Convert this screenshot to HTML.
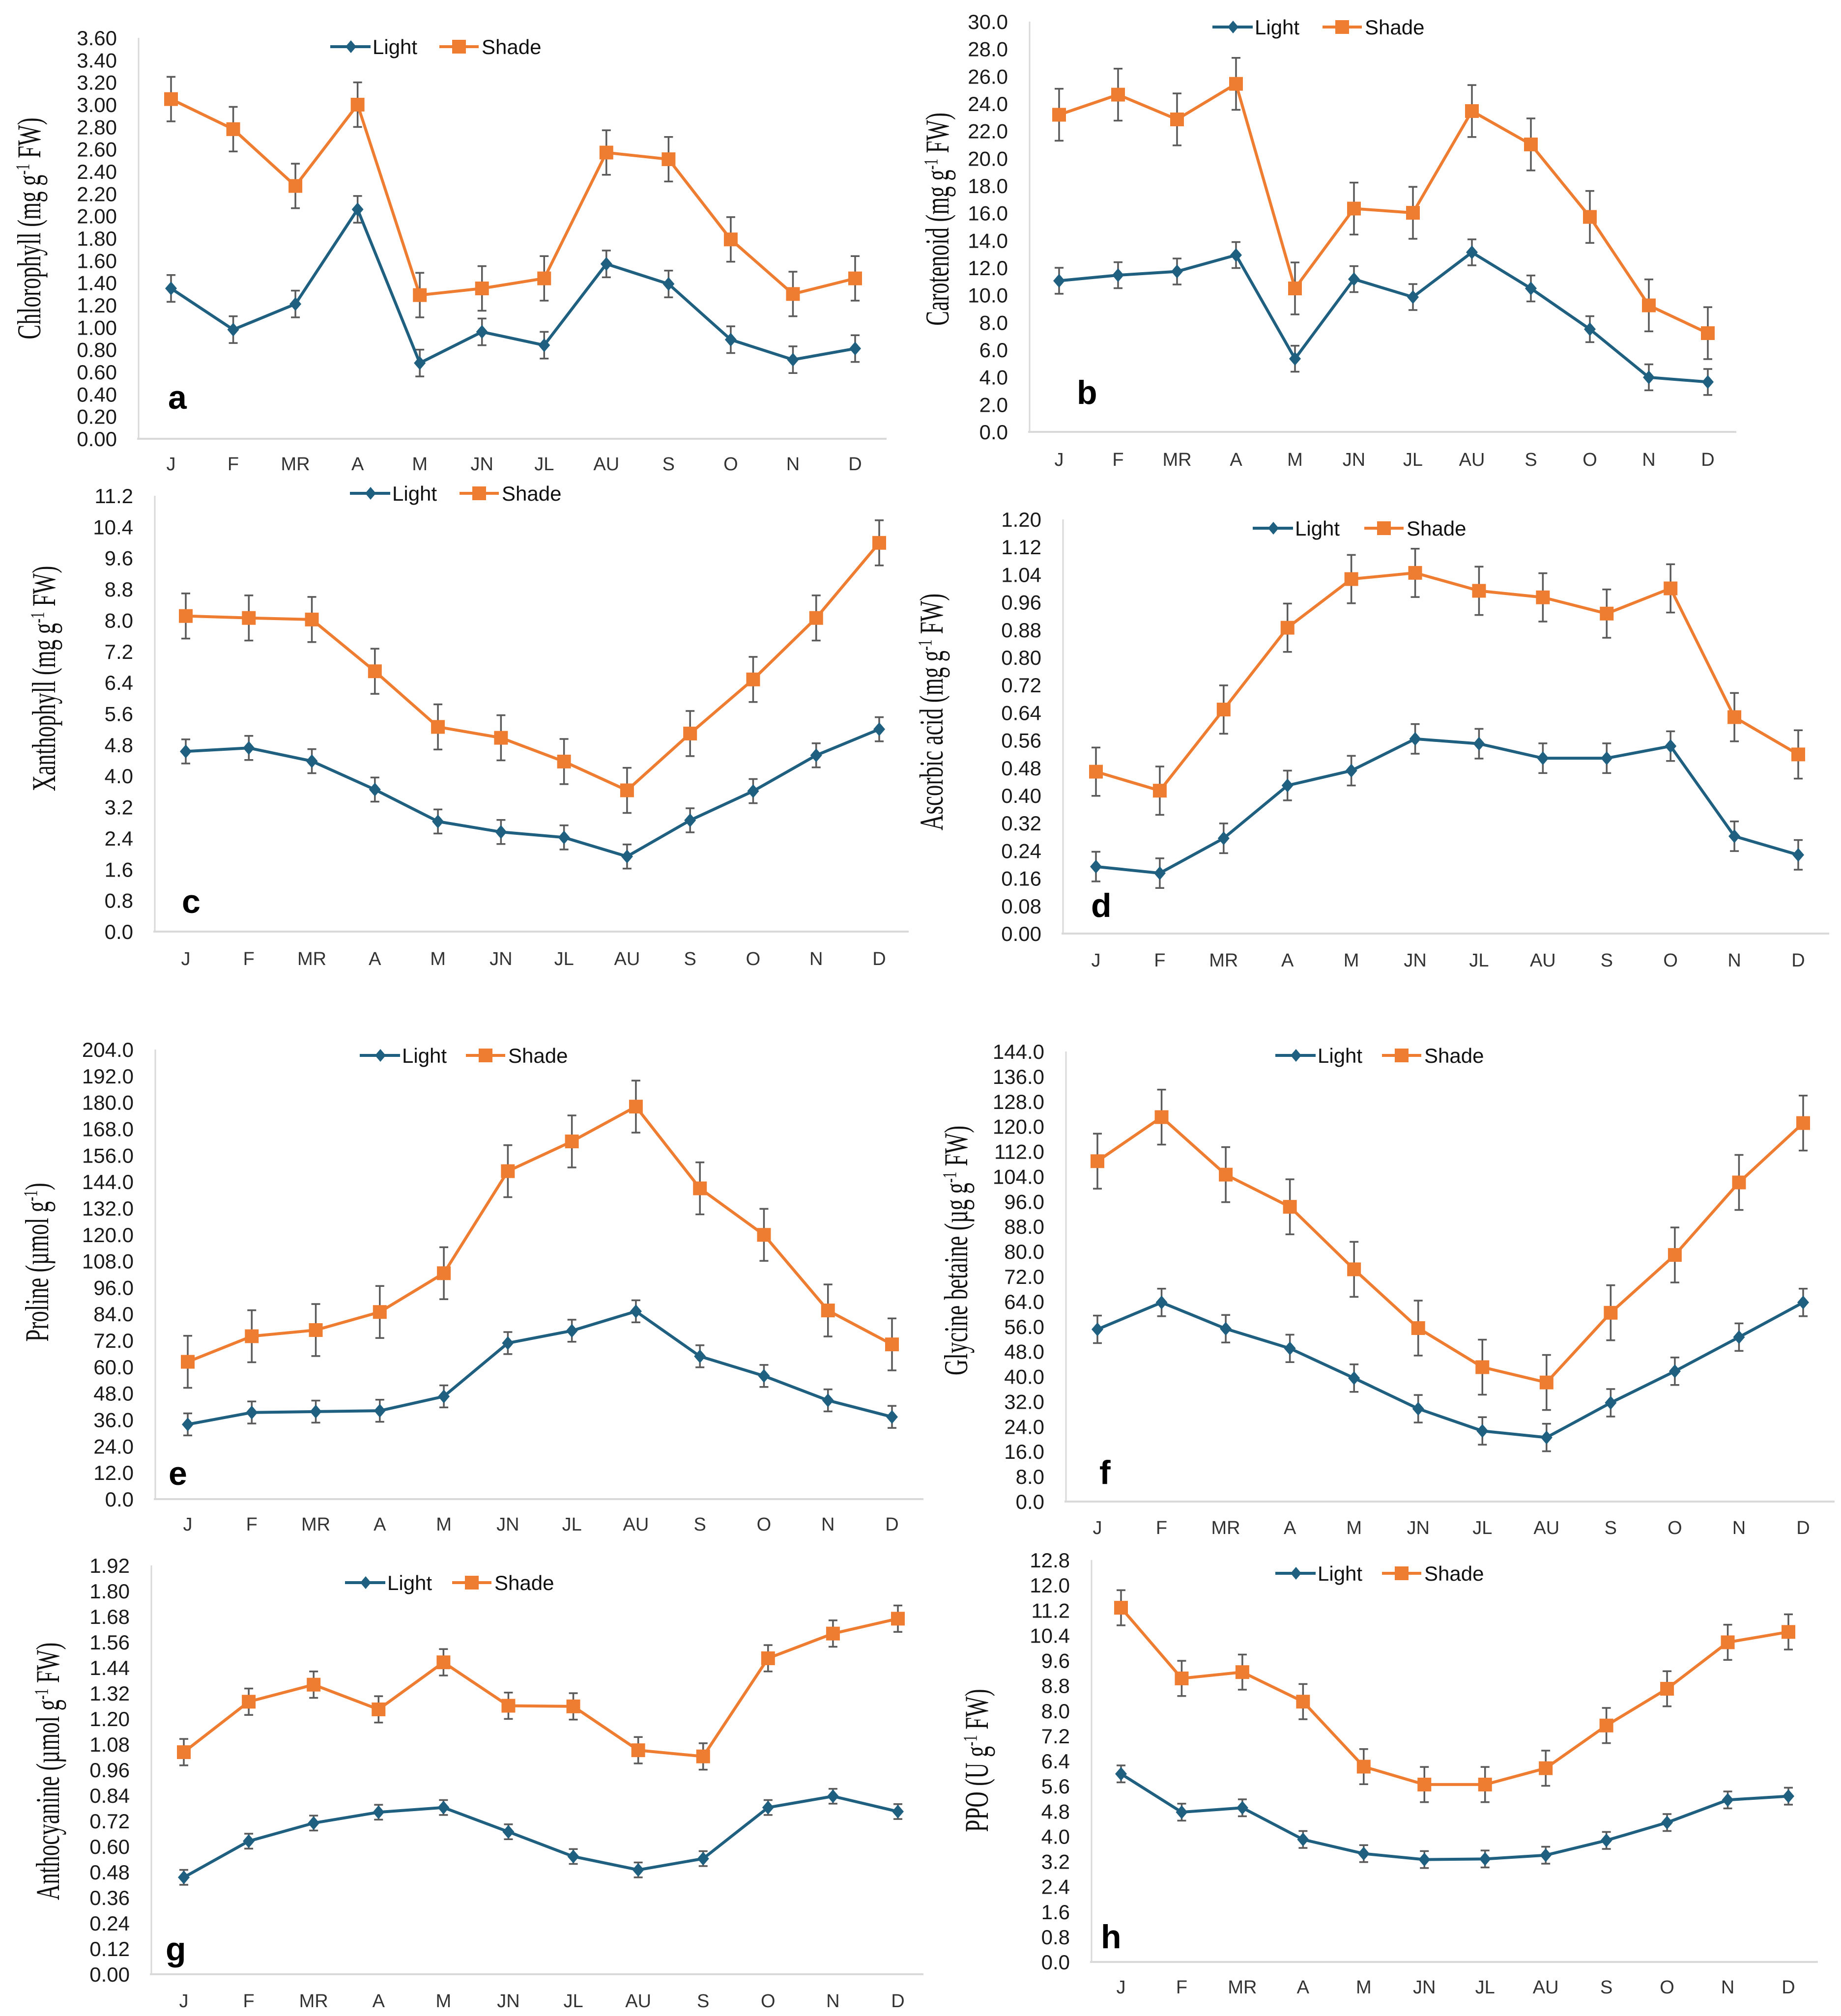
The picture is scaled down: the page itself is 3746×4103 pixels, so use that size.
<!DOCTYPE html>
<html><head><meta charset="utf-8">
<style>
html,body{margin:0;padding:0;background:#fff;}
svg{display:block;}
.tick{font-family:"Liberation Sans",sans-serif;font-size:42px;fill:#1a1a1a;}
.xl{font-family:"Liberation Sans",sans-serif;font-size:38px;fill:#333;}
.leg{font-family:"Liberation Sans",sans-serif;font-size:42px;fill:#111;}
.ttl{font-family:"Liberation Serif",serif;font-size:45px;fill:#111;}
.let{font-family:"Liberation Sans",sans-serif;font-size:68px;font-weight:bold;fill:#000;}
</style></head>
<body>
<svg id="fig" xmlns="http://www.w3.org/2000/svg" width="3746" height="4103" viewBox="0 0 3746 4103"></svg>
<script>
const months = ["J","F","MR","A","M","JN","JL","AU","S","O","N","D"];
// a: Chlorophyll
const chlLight = [1.35,0.98,1.21,2.06,0.68,0.96,0.84,1.57,1.39,0.89,0.71,0.81];
const chlShade = [3.05,2.78,2.27,3.00,1.29,1.35,1.44,2.57,2.51,1.79,1.30,1.44];
const chlErr = [0.12,0.20];
// b: Carotenoid
const carLight = [11.05,11.46,11.73,12.93,5.35,11.17,9.86,13.13,10.49,7.51,3.99,3.65];
const carShade = [23.19,24.66,22.85,25.45,10.49,16.33,16.02,23.46,21.02,15.72,9.25,7.22];
const carErr = [0.95,1.9];
// c: Xanthophyll
const xanLight = [4.63,4.72,4.38,3.65,2.83,2.56,2.42,1.93,2.86,3.61,4.53,5.20];
const xanShade = [8.11,8.06,8.02,6.69,5.26,4.98,4.37,3.63,5.09,6.48,8.06,9.99];
const xanErr = [0.31,0.58];
// d: Ascorbic acid
const ascLight = [0.194,0.175,0.276,0.429,0.472,0.564,0.550,0.508,0.508,0.543,0.282,0.228];
const ascShade = [0.469,0.414,0.649,0.886,1.027,1.045,0.993,0.974,0.927,1.000,0.627,0.519];
const ascErr = [0.043,0.07];
// e: Proline
const proLight = [33.9,39.3,39.7,40.1,46.6,70.8,76.4,85.2,64.8,55.9,44.8,37.3];
const proShade = [62.3,73.9,76.7,84.9,102.5,148.8,162.3,178.1,141.0,119.9,85.6,70.2];
const proErr = [5,11.8];
// f: Glycine betaine
const glyLight = [55.1,63.7,55.3,49.0,39.5,29.7,22.6,20.5,31.6,41.7,52.6,63.7];
const glyShade = [108.9,123.0,104.6,94.3,74.3,55.5,43.0,38.1,60.4,78.9,102.1,121.1];
const glyErr = [4.4,8.8];
// g: Anthocyanine
const antLight = [0.455,0.625,0.710,0.761,0.783,0.669,0.553,0.490,0.543,0.783,0.836,0.764];
const antShade = [1.043,1.280,1.360,1.244,1.465,1.261,1.258,1.052,1.023,1.484,1.600,1.670];
const antErr = [0.035,0.062];
// h: PPO
const ppoLight = [5.99,4.77,4.91,3.90,3.45,3.26,3.28,3.40,3.87,4.44,5.16,5.28];
const ppoShade = [11.28,9.03,9.23,8.29,6.22,5.65,5.65,6.17,7.53,8.70,10.18,10.51];
const ppoErr = [0.27,0.56];
// axis maxima / steps
const axisMax = [3.6,30,11.2,1.2,204,144,1.92,12.8];
const axisStep = [0.2,2,0.8,0.08,12,8,0.12,0.8];
const axisDec = [2,1,1,2,1,1,2,1];

const NS="http://www.w3.org/2000/svg";
const svg=document.getElementById('fig');
function el(tag,attrs,parent,txt){const e=document.createElementNS(NS,tag);for(const k in attrs)e.setAttribute(k,attrs[k]);if(txt!==undefined)e.textContent=txt;(parent||svg).appendChild(e);return e;}

const panels=[
 {key:"a",light:chlLight,shade:chlShade,err:chlErr,ax:282,right:1804,y0:893,yT:77,j:348,d:1740,xlY:957,legY:95,lm:714,sm:934,lx:342,ly:832,tx:82,ty:465,t1:"Chlorophyll  (mg g",t2:" FW)"},
 {key:"b",light:carLight,shade:carShade,err:carErr,ax:2095,right:3533,y0:879,yT:44,j:2155,d:3475,xlY:948,legY:55,lm:2509,sm:2731,lx:2191,ly:822,tx:1930,ty:446,t1:"Carotenoid  (mg g",t2:" FW)"},
 {key:"c",light:xanLight,shade:xanShade,err:xanErr,ax:315,right:1849,y0:1896,yT:1009,j:378,d:1789,xlY:1964,legY:1004,lm:754,sm:975,lx:370,ly:1858,tx:112,ty:1381,t1:"Xanthophyll   (mg g",t2:" FW)"},
 {key:"d",light:ascLight,shade:ascShade,err:ascErr,ax:2163,right:3722,y0:1900,yT:1057,j:2230,d:3659,xlY:1967,legY:1075,lm:2591,sm:2816,lx:2220,ly:1866,tx:1918,ty:1449,t1:"Ascorbic  acid (mg g",t2:" FW)"},
 {key:"e",light:proLight,shade:proShade,err:proErr,ax:316,right:1879,y0:3051,yT:2136,j:382,d:1815,xlY:3115,legY:2148,lm:774,sm:988,lx:343,ly:3022,tx:98,ty:2569,t1:"Proline (µmol g",t2:")"},
 {key:"f",light:glyLight,shade:glyShade,err:glyErr,ax:2169,right:3733,y0:3056,yT:2140,j:2233,d:3669,xlY:3122,legY:2148,lm:2637,sm:2852,lx:2237,ly:3020,tx:1968,ty:2545,t1:"Glycine  betaine (µg g",t2:" FW)"},
 {key:"g",light:antLight,shade:antShade,err:antErr,ax:308,right:1879,y0:4018,yT:3186,j:374,d:1827,xlY:4085,legY:3221,lm:744,sm:960,lx:337,ly:3990,tx:120,ty:3605,t1:"Anthocyanine  (µmol g",t2:" FW)"},
 {key:"h",light:ppoLight,shade:ppoShade,err:ppoErr,ax:2221,right:3699,y0:3993,yT:3175,j:2281,d:3639,xlY:4057,legY:3202,lm:2637,sm:2852,lx:2240,ly:3965,tx:2010,ty:3583,t1:"PPO (U g",t2:" FW)"}
];
const LC="#1f5f80", SC="#ee7d31", EC="#5a5a5a";

panels.forEach((p,pi)=>{
  const g=el('g',{});
  
  
  const max=axisMax[pi], step=axisStep[pi];
  const yS=v=>p.y0-(v/max)*(p.y0-p.yT);
  const xS=i=>p.j+i*(p.d-p.j)/(months.length-1);
  const ya=el('line',{x1:p.ax,y1:p.yT,x2:p.ax,y2:p.y0,stroke:"#d9d9d9","stroke-width":3},g);
  
  
  const xa=el('line',{x1:p.ax-3,y1:p.y0,x2:p.right,y2:p.y0,stroke:"#d9d9d9","stroke-width":4},g);
  
  
  const n=Math.round(max/step);
  for(let k=0;k<=n;k++){
    const v=k*step;
    const t=el('text',{class:'tick',x:p.ax-44,y:yS(v)+15,'text-anchor':'end'},g,v.toFixed(axisDec[pi]));
    
    
  }
  months.forEach((m,i)=>{
    const t=el('text',{class:'xl',x:xS(i),y:p.xlY,'text-anchor':'middle'},g,m);
    
    
  });
  const tt=el('text',{class:'ttl',transform:`translate(${p.tx},${p.ty}) rotate(-90) scale(1,1.5)`,'text-anchor':'middle'},g);
  
  
  el('tspan',{},tt,p.t1);
  el('tspan',{'baseline-shift':'super','font-size':'27'},tt,'-1');
  el('tspan',{},tt,p.t2);
  const lt=el('text',{class:'let',x:p.lx,y:p.ly},g,p.key);
  
  
  const series=[{d:p.light,e:p.err[0],c:LC,name:'light'},{d:p.shade,e:p.err[1],c:SC,name:'shade'}];
  series.forEach(s=>{
    const sg=el('g',{},g);
    
    
    s.d.forEach((v,i)=>{
      const x=xS(i),y1=yS(v+s.e),y2=yS(v-s.e);
      const eb=el('path',{d:`M${x},${y1}V${y2}M${x-9},${y1}H${x+9}M${x-9},${y2}H${x+9}`,stroke:EC,'stroke-width':3.5,fill:'none'},sg);
      
      
    });
    const pts=s.d.map((v,i)=>xS(i)+','+yS(v)).join(' ');
    const pl=el('polyline',{points:pts,fill:'none',stroke:s.c,'stroke-width':6,'stroke-linejoin':'round'},sg);
    
    
    s.d.forEach((v,i)=>{
      const x=xS(i),y=yS(v);
      let mk;
      if(s.name==='light') mk=el('path',{d:`M${x},${y-14}L${x+12},${y}L${x},${y+14}L${x-12},${y}Z`,fill:s.c},sg);
      else mk=el('rect',{x:x-14,y:y-14,width:28,height:28,fill:s.c},sg);
      
      
    });
  });
  const lg=el('g',{},g);
  
  
  const l1=el('g',{},lg);
  
  
  el('line',{x1:p.lm-42,y1:p.legY,x2:p.lm+40,y2:p.legY,stroke:LC,'stroke-width':6},l1);
  el('path',{d:`M${p.lm},${p.legY-13}L${p.lm+11},${p.legY}L${p.lm},${p.legY+13}L${p.lm-11},${p.legY}Z`,fill:LC},l1);
  el('text',{class:'leg',x:p.lm+44,y:p.legY+15},l1,'Light');
  const l2=el('g',{},lg);
  
  
  el('line',{x1:p.sm-40,y1:p.legY,x2:p.sm+40,y2:p.legY,stroke:SC,'stroke-width':6},l2);
  el('rect',{x:p.sm-14,y:p.legY-14,width:28,height:28,fill:SC},l2);
  el('text',{class:'leg',x:p.sm+46,y:p.legY+15},l2,'Shade');
});
</script>
</body></html>
